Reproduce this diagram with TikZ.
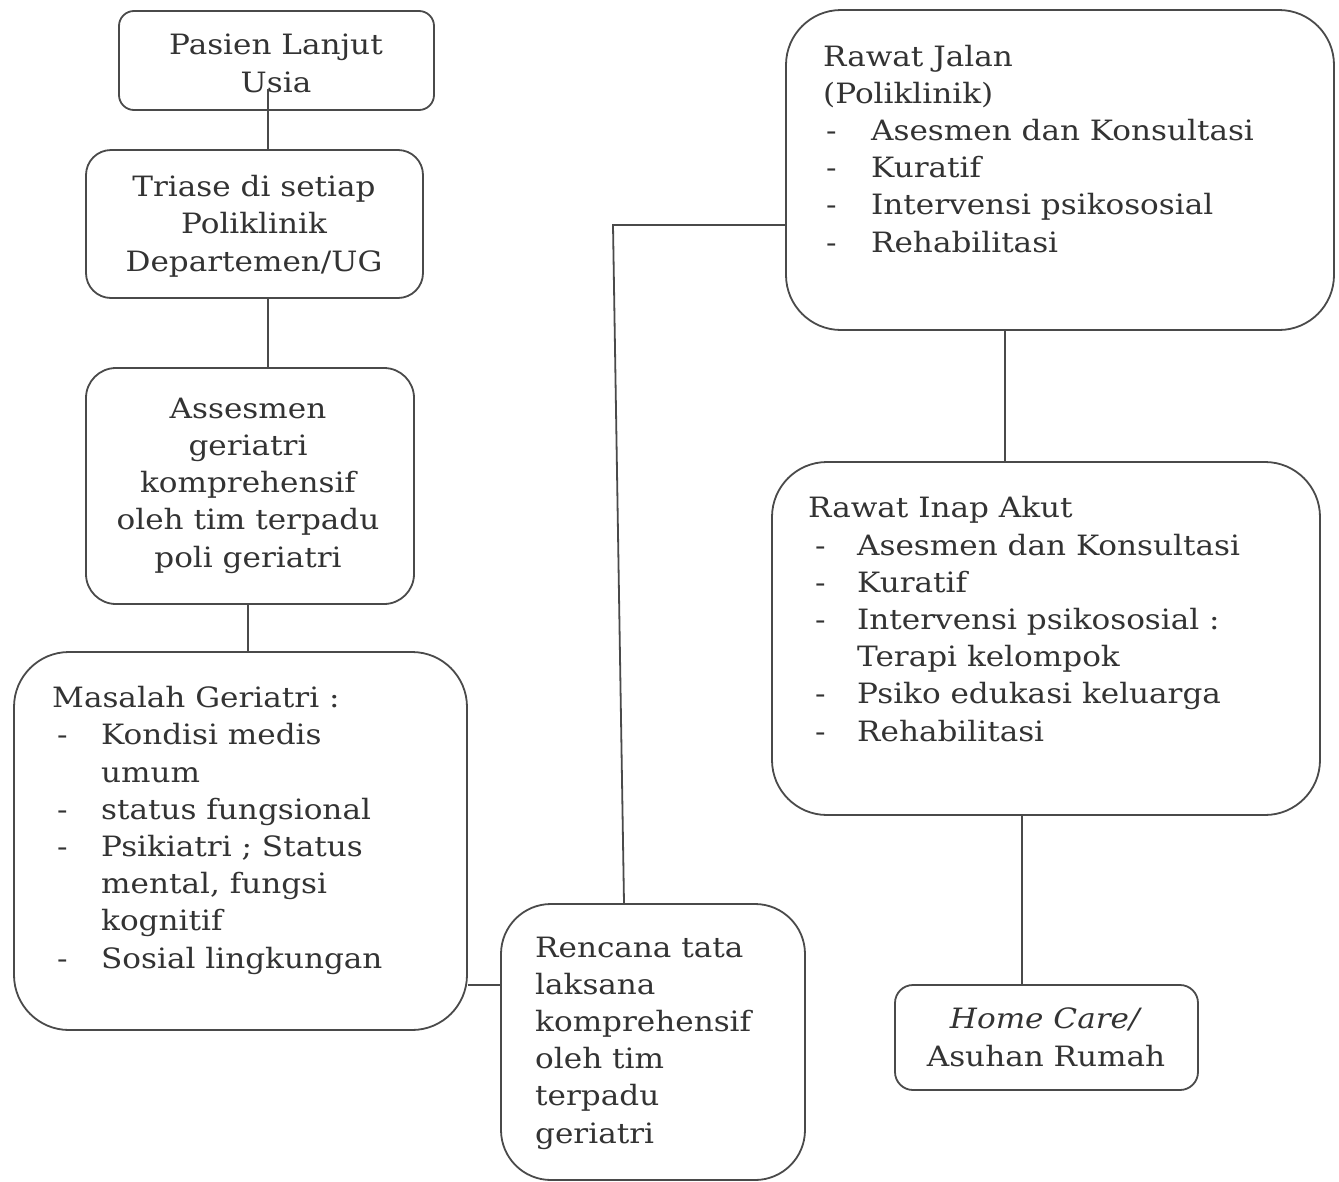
\documentclass[tikz,border=0pt]{standalone}
\usepackage{fontspec}
\setmainfont{DejaVu Serif}[FakeStretch=1.11]
\usetikzlibrary{calc}
\definecolor{ink}{HTML}{333333}
\definecolor{edge}{HTML}{4A4A4A}
\newcommand{\dashitem}[2]{\hspace*{#1}\makebox[#2][l]{-}}
\begin{document}
\begin{tikzpicture}[x=1pt,y=-1pt,
  box/.style={draw=edge, line width=1.8pt, inner sep=0pt},
  txt/.style={text=ink, inner sep=0pt, font=\fontsize{28}{37.2}\selectfont},
  conn/.style={draw=edge, line width=1.8pt}]
\useasboundingbox[fill=white] (0,0) rectangle (1339,1181);

% boxes
\node[box, rounded corners=15pt, minimum width=315pt, minimum height=99pt] (pasien) at (276.5,60.5) {};
\node[box, rounded corners=25pt, minimum width=337pt, minimum height=148pt] (triase) at (254.5,224) {};
\node[box, rounded corners=30pt, minimum width=328pt, minimum height=236pt] (asses) at (250,486) {};
\node[box, rounded corners=55pt, minimum width=453pt, minimum height=378pt] (masalah) at (240.5,841) {};
\node[box, rounded corners=50pt, minimum width=304pt, minimum height=276pt] (rencana) at (653,1042) {};
\node[box, rounded corners=55pt, minimum width=548pt, minimum height=320pt] (jalan) at (1060,170) {};
\node[box, rounded corners=55pt, minimum width=548pt, minimum height=353pt] (inap) at (1046,638.5) {};
\node[box, rounded corners=18pt, minimum width=303pt, minimum height=105pt] (home) at (1046.5,1037.5) {};

% texts (base anchor = baseline of last line)
\node[txt, align=center, anchor=base] (tpasien) at (276,92) {Pasien Lanjut\\Usia};
\node[txt, align=center, anchor=base] (ttriase) at (254,271) {Triase di setiap\\Poliklinik\\Departemen/UG};
\node[txt, align=center, anchor=base] (tasses) at (248,567) {Assesmen\\geriatri\\komprehensif\\oleh tim terpadu\\poli geriatri};
\node[txt, align=left, anchor=base west] (tmasalah) at (52,968) {Masalah Geriatri :\\
\dashitem{5pt}{44pt}Kondisi medis\\
\hspace*{49pt}umum\\
\dashitem{5pt}{44pt}status fungsional\\
\dashitem{5pt}{44pt}Psikiatri ; Status\\
\hspace*{49pt}mental, fungsi\\
\hspace*{49pt}kognitif\\
\dashitem{5pt}{44pt}Sosial lingkungan};
\node[txt, align=left, anchor=base west] (trencana) at (535,1143) {Rencana tata\\laksana\\komprehensif\\oleh tim\\terpadu\\geriatri};
\node[txt, align=left, anchor=base west] (tjalan) at (823,252) {Rawat Jalan\\(Poliklinik)\\
\dashitem{3pt}{45pt}Asesmen dan Konsultasi\\
\dashitem{3pt}{45pt}Kuratif\\
\dashitem{3pt}{45pt}Intervensi psikososial\\
\dashitem{3pt}{45pt}Rehabilitasi};
\node[txt, align=left, anchor=base west] (tinap) at (808,741) {Rawat Inap Akut\\
\dashitem{7pt}{42pt}Asesmen dan Konsultasi\\
\dashitem{7pt}{42pt}Kuratif\\
\dashitem{7pt}{42pt}Intervensi psikososial :\\
\hspace*{49pt}Terapi kelompok\\
\dashitem{7pt}{42pt}Psiko edukasi keluarga\\
\dashitem{7pt}{42pt}Rehabilitasi};
\node[txt, align=center, anchor=base] (thome) at (1046,1066) {\textit{Home Care/}\\Asuhan Rumah};

% connectors
\draw[conn] ([yshift=22pt]pasien.south -| 268,0) -- (268,0 |- triase.north);
\draw[conn] (268,0 |- triase.south) -- (268,0 |- asses.north);
\draw[conn] (248,0 |- asses.south) -- (248,0 |- masalah.north);
\draw[conn] (masalah.east |- 0,985) -- (rencana.west |- 0,985);
\coordinate (bend) at (613,225);
\draw[conn] (624,0 |- rencana.north) -- (bend) -- (jalan.west |- bend);
\draw[conn] (1005,0 |- jalan.south) -- (1005,0 |- inap.north);
\draw[conn] (1022,0 |- inap.south) -- (1022,0 |- home.north);
\end{tikzpicture}
\end{document}
